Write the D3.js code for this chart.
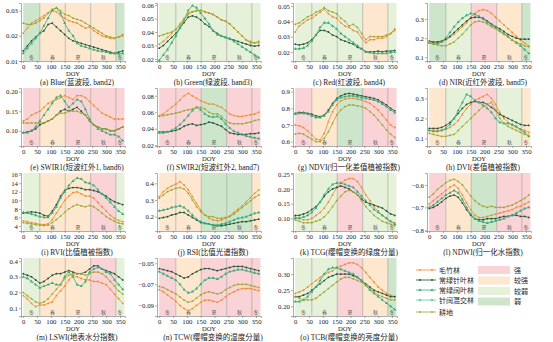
<!DOCTYPE html>
<html><head><meta charset="utf-8">
<script src="https://cdn.jsdelivr.net/npm/d3@7"></script>
<style>body{margin:0;background:#fff}svg text{font-family:"Liberation Serif","Noto Sans CJK SC",serif}</style>
</head><body>
<svg id="chart" width="553" height="342"></svg>
<script>
// Day of year of each composite
const doy = [0,15,30,45,60,75,90,105,120,135,150,165,180,195,210,225,240,255,270,285,300,315,330,345,360];

const seriesNames = ["毛竹林","常绿针叶林","常绿阔叶林","耕地"];
const seriesColors = ["#ef8a2e","#1f4f30","#3aaa78","#9ea52f"];
const seriesShapes = ["circle","circle","triangle","square"];

const legendNames = ["毛竹林","常绿针叶林","常绿阔叶林","针阔混交林","耕地"];

const seasonBreaks = [0,60,152,244,335,366];
const seasonNames = ["冬","春","夏","秋","冬"];
const seasonMid = [30,106,198,290,350];

const levelNames = ["强","较强","较弱","弱"];
const levelColors = ["#f9d3d5","#fde8cf","#e6f1d9","#cde6cb"];

const panelTitles = [
  "(a) Blue(蓝波段, band2)","(b) Green(绿波段, band3)","(c) Red(红波段, band4)","(d) NIR(近红外波段, band5)",
  "(e) SWIR1(短波红外1, band6)","(f) SWIR2(短波红外2, band7)","(g) NDVI(归一化差值植被指数)","(h) DVI(差值植被指数)",
  "(i) RVI(比值植被指数)","(j) RSI(比值光谱指数)","(k) TCG(缨帽变换的绿度分量)","(l) NDWI(归一化水指数)",
  "(m) LSWI(地表水分指数)","(n) TCW(缨帽变换的湿度分量)","(o) TCB(缨帽变换的亮度分量)"
];

// season shading level per panel (index into levelNames)
const panelLevels = [
  [3,1,1,1,3],[2,2,2,2,2],[2,2,2,1,2],[3,2,0,1,3],
  [0,1,0,0,0],[0,0,3,0,0],[0,1,3,0,0],[1,2,0,2,1],
  [2,1,1,0,2],[1,1,3,3,1],[2,2,0,2,2],[0,1,3,0,0],
  [2,1,1,0,2],[0,1,0,0,0],[2,2,0,1,3]
];

const panelDomains = [
  [0.01,0.033],[0.0185,0.0615],[0.014,0.052],[0.08,0.385],
  [0.061,0.2095],[0.019,0.0895],[0.574,0.922],[0.062,0.352],
  [2.83,16.4],[0.114,0.462],[0.057,0.254],[-0.805,-0.547],
  [0.05,0.42],[-0.1,-0.045],[0.17,0.35]
];

const panelTicks = [
  [0.01,0.02,0.03],[0.02,0.03,0.04,0.05,0.06],[0.02,0.03,0.04,0.05],[0.1,0.2,0.3],
  [0.10,0.15,0.20],[0.02,0.04,0.06,0.08],[0.6,0.7,0.8,0.9],[0.1,0.2,0.3],
  [4,6,8,10,12,14,16],[0.2,0.3,0.4],[0.10,0.15,0.20,0.25],[-0.8,-0.7,-0.6],
  [0.1,0.2,0.3,0.4],[-0.09,-0.07,-0.05],[0.2,0.25,0.3]
];

const panelTickFormats = [
  ".2f",".2f",".2f",".1f",
  ".2f",".2f",".1f",".1f",
  "d",".1f",".2f",".1f",
  ".1f",".2f",".2f"
];

// series order: 毛竹林, 常绿针叶林, 常绿阔叶林, 耕地
const blue = [
  [0.021,0.023,0.025,0.026,0.027,0.028,0.029,0.030,0.0295,0.028,0.027,0.026,0.0255,0.025,0.024,0.023,0.0235,0.022,0.021,0.020,0.0195,0.019,0.019,0.0195,0.020],
  [0.014,0.016,0.018,0.0195,0.021,0.022,0.0245,0.025,0.0235,0.022,0.0205,0.019,0.018,0.0175,0.017,0.0165,0.016,0.0155,0.015,0.0145,0.014,0.0135,0.013,0.0135,0.014],
  [0.013,0.015,0.017,0.019,0.021,0.024,0.027,0.030,0.031,0.029,0.025,0.022,0.020,0.017,0.016,0.0155,0.015,0.0145,0.014,0.0138,0.0135,0.013,0.013,0.0128,0.013],
  [0.025,0.0245,0.0245,0.025,0.026,0.027,0.029,0.0305,0.031,0.030,0.0285,0.028,0.027,0.0265,0.026,0.025,0.024,0.023,0.022,0.021,0.020,0.0195,0.019,0.0195,0.0205]
];
const green = [
  [0.031,0.033,0.036,0.039,0.042,0.046,0.050,0.054,0.055,0.0555,0.056,0.055,0.054,0.053,0.051,0.049,0.048,0.046,0.043,0.040,0.037,0.034,0.033,0.032,0.032],
  [0.028,0.030,0.033,0.036,0.039,0.043,0.047,0.051,0.052,0.051,0.049,0.046,0.044,0.041,0.039,0.037,0.036,0.035,0.034,0.033,0.032,0.031,0.030,0.0295,0.030],
  [0.019,0.023,0.027,0.032,0.037,0.043,0.049,0.056,0.0595,0.058,0.054,0.050,0.046,0.041,0.038,0.037,0.036,0.035,0.033,0.031,0.029,0.027,0.025,0.023,0.021],
  [0.037,0.038,0.039,0.040,0.042,0.045,0.049,0.053,0.055,0.056,0.056,0.055,0.054,0.053,0.051,0.049,0.048,0.046,0.043,0.040,0.037,0.034,0.032,0.032,0.033]
];
const red = [
  [0.033,0.037,0.039,0.041,0.042,0.044,0.046,0.048,0.045,0.043,0.042,0.039,0.037,0.036,0.034,0.033,0.029,0.026,0.028,0.028,0.029,0.029,0.030,0.032,0.034],
  [0.025,0.0245,0.025,0.026,0.028,0.031,0.034,0.034,0.033,0.031,0.030,0.028,0.027,0.026,0.025,0.023,0.022,0.020,0.020,0.020,0.0205,0.020,0.0205,0.0205,0.021],
  [0.022,0.022,0.0225,0.024,0.027,0.031,0.036,0.039,0.039,0.037,0.035,0.032,0.030,0.028,0.026,0.024,0.022,0.020,0.0195,0.019,0.019,0.019,0.019,0.0195,0.020],
  [0.038,0.039,0.041,0.043,0.044,0.046,0.047,0.049,0.047,0.046,0.045,0.042,0.040,0.037,0.038,0.036,0.032,0.028,0.030,0.030,0.030,0.030,0.031,0.032,0.035]
];
const nir = [
  [0.18,0.175,0.175,0.18,0.19,0.205,0.22,0.24,0.26,0.28,0.31,0.33,0.345,0.35,0.345,0.33,0.31,0.29,0.27,0.25,0.23,0.21,0.19,0.175,0.16],
  [0.185,0.18,0.18,0.185,0.195,0.21,0.23,0.25,0.27,0.29,0.305,0.31,0.31,0.305,0.29,0.275,0.26,0.25,0.235,0.22,0.21,0.20,0.195,0.195,0.195],
  [0.175,0.17,0.17,0.18,0.20,0.23,0.26,0.285,0.305,0.32,0.33,0.325,0.315,0.30,0.285,0.27,0.255,0.24,0.225,0.21,0.19,0.175,0.16,0.14,0.12],
  [0.18,0.17,0.165,0.16,0.16,0.17,0.18,0.20,0.22,0.245,0.27,0.285,0.29,0.285,0.275,0.26,0.25,0.235,0.22,0.205,0.19,0.18,0.17,0.16,0.155]
];
const swir1 = [
  [0.125,0.13,0.14,0.145,0.15,0.16,0.17,0.175,0.18,0.185,0.19,0.185,0.18,0.19,0.19,0.185,0.175,0.165,0.155,0.145,0.14,0.135,0.13,0.13,0.13],
  [0.095,0.097,0.10,0.105,0.115,0.12,0.125,0.13,0.14,0.15,0.155,0.15,0.155,0.16,0.15,0.14,0.125,0.115,0.11,0.105,0.105,0.10,0.10,0.105,0.11],
  [0.095,0.095,0.10,0.11,0.125,0.14,0.155,0.17,0.185,0.19,0.175,0.16,0.17,0.18,0.175,0.155,0.13,0.115,0.105,0.10,0.095,0.09,0.09,0.085,0.075],
  [0.12,0.12,0.12,0.12,0.12,0.12,0.125,0.13,0.14,0.145,0.145,0.15,0.15,0.15,0.145,0.14,0.125,0.115,0.11,0.105,0.105,0.10,0.10,0.105,0.11]
];
const swir2 = [
  [0.056,0.058,0.062,0.066,0.070,0.075,0.080,0.083,0.080,0.077,0.074,0.072,0.070,0.070,0.068,0.066,0.062,0.058,0.056,0.055,0.055,0.056,0.057,0.058,0.060],
  [0.036,0.036,0.036,0.037,0.038,0.040,0.043,0.045,0.046,0.044,0.045,0.046,0.048,0.047,0.045,0.043,0.039,0.035,0.034,0.033,0.033,0.033,0.034,0.034,0.035],
  [0.035,0.035,0.036,0.038,0.041,0.045,0.050,0.056,0.062,0.066,0.063,0.058,0.055,0.054,0.055,0.052,0.046,0.041,0.037,0.035,0.033,0.031,0.030,0.029,0.028],
  [0.055,0.056,0.057,0.058,0.059,0.060,0.062,0.063,0.064,0.066,0.066,0.064,0.060,0.058,0.058,0.055,0.050,0.047,0.046,0.046,0.046,0.047,0.048,0.050,0.051]
];
const ndvi = [
  [0.70,0.695,0.685,0.665,0.64,0.615,0.61,0.65,0.72,0.78,0.82,0.845,0.855,0.86,0.86,0.855,0.85,0.84,0.83,0.81,0.79,0.76,0.73,0.70,0.685],
  [0.77,0.775,0.775,0.77,0.765,0.755,0.75,0.76,0.79,0.83,0.86,0.875,0.885,0.89,0.885,0.88,0.875,0.87,0.865,0.86,0.85,0.835,0.82,0.80,0.785],
  [0.765,0.77,0.77,0.765,0.755,0.745,0.745,0.755,0.78,0.82,0.85,0.865,0.87,0.875,0.875,0.87,0.865,0.86,0.855,0.85,0.84,0.825,0.81,0.79,0.775],
  [0.645,0.65,0.645,0.63,0.615,0.60,0.60,0.62,0.66,0.71,0.76,0.79,0.81,0.82,0.82,0.815,0.81,0.80,0.78,0.76,0.73,0.70,0.67,0.645,0.625]
];
const dvi = [
  [0.14,0.14,0.14,0.14,0.145,0.155,0.17,0.19,0.22,0.25,0.27,0.29,0.30,0.31,0.32,0.30,0.27,0.23,0.20,0.18,0.165,0.155,0.145,0.14,0.13],
  [0.15,0.15,0.15,0.155,0.165,0.18,0.20,0.225,0.25,0.27,0.28,0.285,0.28,0.28,0.27,0.255,0.24,0.22,0.21,0.20,0.19,0.18,0.17,0.165,0.165],
  [0.14,0.135,0.135,0.14,0.15,0.17,0.20,0.24,0.28,0.32,0.31,0.29,0.28,0.265,0.25,0.23,0.20,0.18,0.175,0.175,0.17,0.16,0.145,0.13,0.11],
  [0.125,0.12,0.115,0.11,0.11,0.115,0.12,0.14,0.16,0.18,0.20,0.22,0.24,0.26,0.27,0.28,0.24,0.20,0.175,0.16,0.15,0.14,0.13,0.12,0.115]
];
const rvi = [
  [5.2,5.0,4.8,4.6,4.4,4.3,4.5,5.5,7.0,8.5,10.0,11.0,11.8,12.0,11.5,11.0,11.0,10.5,9.5,8.5,7.5,6.5,5.8,5.3,5.0],
  [7.0,7.2,7.3,7.2,7.0,6.5,6.3,7.5,9.0,11.0,12.3,12.8,13.0,13.0,12.8,12.5,12.5,12.3,12.0,11.5,11.0,10.2,9.7,9.3,9.0],
  [7.2,7.0,6.8,6.5,6.2,6.0,6.0,7.0,8.5,10.5,12.0,13.5,14.5,15.2,15.0,14.2,14.0,13.5,12.5,11.5,10.5,9.5,8.5,7.5,6.8],
  [4.8,4.6,4.5,4.3,4.2,4.1,4.2,4.8,5.5,6.3,7.2,8.0,8.6,9.0,8.7,8.5,8.8,8.5,7.8,7.0,6.2,5.6,5.1,4.7,4.5]
];
const rsi = [
  [0.32,0.35,0.37,0.385,0.395,0.41,0.39,0.36,0.32,0.28,0.24,0.21,0.19,0.18,0.175,0.18,0.19,0.205,0.225,0.245,0.265,0.29,0.315,0.34,0.36],
  [0.19,0.195,0.20,0.21,0.215,0.225,0.225,0.21,0.195,0.18,0.165,0.16,0.155,0.15,0.145,0.145,0.15,0.155,0.16,0.165,0.17,0.17,0.175,0.18,0.185],
  [0.235,0.24,0.245,0.255,0.26,0.265,0.255,0.235,0.21,0.185,0.17,0.16,0.155,0.15,0.15,0.155,0.16,0.17,0.18,0.19,0.195,0.20,0.21,0.22,0.225],
  [0.31,0.33,0.35,0.36,0.37,0.375,0.365,0.34,0.30,0.26,0.23,0.21,0.20,0.20,0.19,0.19,0.195,0.20,0.215,0.235,0.255,0.275,0.295,0.315,0.33]
];
const tcg = [
  [0.105,0.10,0.095,0.095,0.10,0.11,0.12,0.135,0.155,0.18,0.205,0.22,0.23,0.235,0.235,0.225,0.205,0.18,0.16,0.14,0.125,0.11,0.10,0.09,0.085],
  [0.11,0.11,0.115,0.12,0.13,0.14,0.155,0.175,0.19,0.20,0.205,0.21,0.205,0.20,0.19,0.18,0.165,0.155,0.15,0.145,0.14,0.135,0.125,0.115,0.11],
  [0.10,0.10,0.105,0.11,0.12,0.135,0.155,0.18,0.20,0.215,0.22,0.22,0.215,0.21,0.205,0.19,0.175,0.16,0.145,0.13,0.12,0.11,0.10,0.09,0.08],
  [0.095,0.09,0.085,0.085,0.085,0.09,0.095,0.105,0.12,0.14,0.16,0.175,0.19,0.195,0.19,0.18,0.16,0.14,0.125,0.11,0.10,0.09,0.085,0.08,0.075]
];
const ndwi = [
  [-0.685,-0.67,-0.655,-0.64,-0.625,-0.61,-0.60,-0.615,-0.645,-0.68,-0.71,-0.735,-0.745,-0.745,-0.74,-0.735,-0.73,-0.725,-0.72,-0.715,-0.71,-0.70,-0.695,-0.685,-0.675],
  [-0.705,-0.70,-0.69,-0.675,-0.66,-0.65,-0.645,-0.655,-0.68,-0.71,-0.735,-0.75,-0.755,-0.755,-0.75,-0.75,-0.75,-0.745,-0.74,-0.74,-0.735,-0.735,-0.74,-0.74,-0.745],
  [-0.70,-0.69,-0.675,-0.66,-0.645,-0.635,-0.625,-0.635,-0.665,-0.70,-0.73,-0.75,-0.76,-0.765,-0.77,-0.765,-0.76,-0.755,-0.75,-0.74,-0.735,-0.725,-0.715,-0.705,-0.70],
  [-0.655,-0.64,-0.62,-0.605,-0.59,-0.58,-0.575,-0.585,-0.60,-0.625,-0.65,-0.67,-0.685,-0.695,-0.70,-0.695,-0.70,-0.70,-0.70,-0.695,-0.69,-0.68,-0.67,-0.66,-0.645]
];
const lswi = [
  [0.18,0.16,0.13,0.11,0.12,0.12,0.13,0.14,0.18,0.21,0.24,0.28,0.31,0.30,0.29,0.28,0.28,0.27,0.27,0.26,0.25,0.22,0.19,0.16,0.13],
  [0.32,0.31,0.30,0.28,0.26,0.27,0.29,0.31,0.32,0.32,0.33,0.34,0.33,0.32,0.32,0.33,0.35,0.37,0.37,0.35,0.34,0.33,0.32,0.30,0.28],
  [0.30,0.29,0.27,0.25,0.23,0.24,0.25,0.26,0.25,0.25,0.30,0.33,0.30,0.25,0.24,0.27,0.33,0.35,0.36,0.35,0.33,0.32,0.28,0.25,0.22],
  [0.20,0.18,0.16,0.14,0.13,0.14,0.16,0.19,0.22,0.25,0.29,0.31,0.32,0.32,0.32,0.31,0.32,0.33,0.33,0.32,0.30,0.27,0.24,0.21,0.19]
];
const tcw = [
  [-0.075,-0.077,-0.08,-0.083,-0.086,-0.09,-0.093,-0.095,-0.093,-0.09,-0.087,-0.085,-0.085,-0.086,-0.087,-0.085,-0.082,-0.079,-0.077,-0.075,-0.074,-0.074,-0.074,-0.075,-0.076],
  [-0.055,-0.056,-0.057,-0.058,-0.06,-0.062,-0.064,-0.063,-0.06,-0.058,-0.056,-0.055,-0.055,-0.056,-0.057,-0.056,-0.055,-0.054,-0.053,-0.053,-0.053,-0.054,-0.055,-0.056,-0.057],
  [-0.058,-0.06,-0.062,-0.064,-0.066,-0.07,-0.075,-0.078,-0.077,-0.074,-0.07,-0.066,-0.064,-0.064,-0.065,-0.063,-0.06,-0.058,-0.057,-0.056,-0.056,-0.057,-0.058,-0.059,-0.06],
  [-0.072,-0.073,-0.075,-0.077,-0.079,-0.082,-0.085,-0.087,-0.086,-0.083,-0.08,-0.078,-0.077,-0.078,-0.079,-0.078,-0.075,-0.073,-0.071,-0.07,-0.07,-0.07,-0.071,-0.072,-0.073]
];
const tcb = [
  [0.24,0.245,0.25,0.26,0.27,0.28,0.29,0.30,0.305,0.31,0.32,0.325,0.33,0.335,0.335,0.33,0.32,0.305,0.29,0.275,0.26,0.25,0.24,0.235,0.23],
  [0.23,0.23,0.235,0.24,0.25,0.26,0.27,0.28,0.29,0.295,0.30,0.30,0.30,0.30,0.295,0.29,0.28,0.27,0.26,0.25,0.245,0.24,0.235,0.23,0.23],
  [0.215,0.215,0.22,0.23,0.245,0.26,0.28,0.30,0.315,0.32,0.32,0.315,0.31,0.305,0.30,0.29,0.28,0.265,0.25,0.24,0.23,0.22,0.21,0.20,0.19],
  [0.23,0.225,0.22,0.22,0.22,0.225,0.235,0.245,0.255,0.265,0.275,0.285,0.29,0.29,0.285,0.28,0.275,0.265,0.255,0.245,0.235,0.23,0.225,0.22,0.22]
];

const panelData = [blue,green,red,nir,swir1,swir2,ndvi,dvi,rvi,rsi,tcg,ndwi,lswi,tcw,tcb];
const xTicks = [0,50,100,150,200,250,300,350];

const svg = d3.select("#chart");
const colX = [21,157,293,427];
const rowY = [3,88,173,258];
const pw = 104, ph = 58;

function marker(g, shape, x, y, color) {
  if (shape === "circle") {
    g.append("circle").attr("cx", x).attr("cy", y).attr("r", 0.9).attr("fill", color);
  } else if (shape === "triangle") {
    g.append("path").attr("d", d3.symbol(d3.symbolTriangle, 4)()).attr("transform", `translate(${x},${y})`).attr("fill", color);
  } else {
    g.append("rect").attr("x", x - 0.8).attr("y", y - 0.8).attr("width", 1.6).attr("height", 1.6).attr("fill", color);
  }
}

panelData.forEach((data, i) => {
  const col = i % 4, row = Math.floor(i / 4);
  const g = svg.append("g").attr("transform", `translate(${colX[col]},${rowY[row]})`);
  const x = d3.scaleLinear().domain([-8, 368]).range([0, pw]);
  const y = d3.scaleLinear().domain(panelDomains[i]).range([ph, 0]);

  // season shading
  seasonNames.forEach((s, k) => {
    const x0 = Math.max(0, x(seasonBreaks[k])), x1 = Math.min(pw, x(seasonBreaks[k + 1]));
    g.append("rect").attr("x", x0).attr("y", 0).attr("width", x1 - x0).attr("height", ph)
      .attr("fill", levelColors[panelLevels[i][k]]);
  });
  seasonBreaks.slice(1, 5).forEach(b => {
    g.append("line").attr("x1", x(b)).attr("x2", x(b)).attr("y1", 0).attr("y2", ph)
      .attr("stroke", "#9a9a9a").attr("stroke-width", 0.6);
  });
  seasonNames.forEach((s, k) => {
    g.append("text").attr("x", x(seasonMid[k])).attr("y", ph - 2).attr("text-anchor", "middle")
      .attr("font-size", 5).attr("fill", "#555").text(s);
  });

  // series
  const line = d3.line().x((d, j) => x(doy[j])).y(d => y(d));
  data.forEach((vals, s) => {
    g.append("path").attr("d", line(vals)).attr("fill", "none")
      .attr("stroke", seriesColors[s]).attr("stroke-width", 0.8);
    vals.forEach((v, j) => marker(g, seriesShapes[s], x(doy[j]), y(v), seriesColors[s]));
  });

  // axes
  const ax = g.append("g").attr("transform", `translate(0,${ph})`)
    .call(d3.axisBottom(x).tickValues(xTicks).tickSize(2).tickPadding(1));
  const ay = g.append("g")
    .call(d3.axisLeft(y).tickValues(panelTicks[i]).tickSize(2).tickPadding(1).tickFormat(d3.format(panelTickFormats[i])));
  [ax, ay].forEach(a => {
    a.select(".domain").attr("stroke", "#777").attr("stroke-width", 0.6);
    a.selectAll(".tick line").attr("stroke", "#777").attr("stroke-width", 0.6);
    a.selectAll(".tick text").attr("font-size", 6.8).attr("fill", "#222")
      .attr("font-family", "Liberation Serif, serif");
  });

  g.append("text").attr("x", pw / 2).attr("y", ph + 14.5).attr("text-anchor", "middle")
    .attr("font-size", 6.5).attr("fill", "#222").text("DOY");
  g.append("text").attr("x", pw / 2 + 4).attr("y", ph + 23.5).attr("text-anchor", "middle")
    .attr("font-size", 7.5).attr("fill", "#222").text(panelTitles[i]);
});

// legend
const lg = svg.append("g");
const legendColors = ["#ef8a2e","#1f4f30","#3aaa78","#6cc4a4","#9ea52f"];
const legendShapes = ["circle","circle","triangle","triangle","square"];
const legendY = [270,280,290,300,312];
legendNames.forEach((n, k) => {
  lg.append("line").attr("x1", 416).attr("x2", 436).attr("y1", legendY[k]).attr("y2", legendY[k])
    .attr("stroke", legendColors[k]).attr("stroke-width", 0.8);
  marker(lg, legendShapes[k], 420, legendY[k], legendColors[k]);
  marker(lg, legendShapes[k], 432, legendY[k], legendColors[k]);
  lg.append("text").attr("x", 439).attr("y", legendY[k] + 2.5).attr("font-size", 7).attr("fill", "#222").text(n);
});
levelNames.forEach((n, k) => {
  lg.append("rect").attr("x", 478).attr("y", 266 + k * 10.5).attr("width", 32).attr("height", 8)
    .attr("fill", levelColors[k]);
  lg.append("text").attr("x", 514).attr("y", 272.5 + k * 10.5).attr("font-size", 7).attr("fill", "#222").text(n);
});
</script>
</body></html>
